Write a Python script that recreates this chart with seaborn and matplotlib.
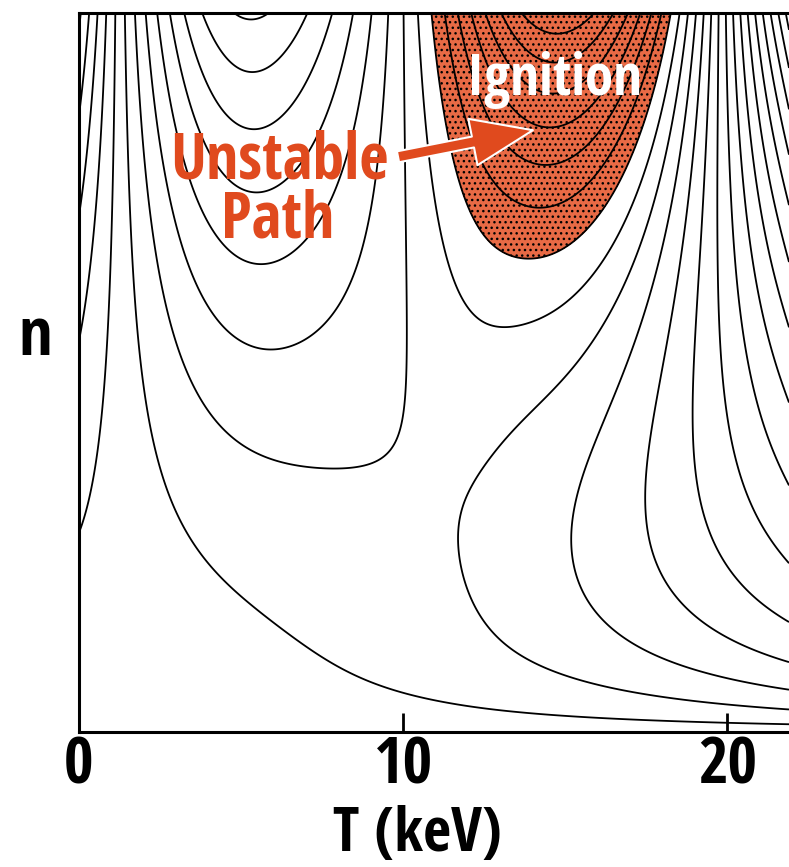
import numpy as np
import matplotlib
matplotlib.use("Agg")
import matplotlib.pyplot as plt
import seaborn as sns
from matplotlib import font_manager as fm

# ---------------- data ----------------
# temperatures (keV) where contour lines meet the top edge, and the contour level of each line
top_T = [0.06, 0.31, 0.56, 0.83, 1.14, 1.45, 1.70, 2.07, 2.38, 2.78,
         3.24, 3.86, 4.90, 5.42, 5.93, 7.19, 7.78, 8.43, 8.95, 9.51,
         10.03, 10.43, 10.90, 11.33, 11.73, 12.13, 12.56, 12.96, 13.36, 14.60,
         15.96, 16.36, 16.88, 17.28, 17.81, 18.12, 18.27, 18.43, 18.73, 18.98,
         19.23, 19.51, 19.75, 19.97, 20.15, 20.43, 20.62, 20.90, 21.08, 21.30,
         21.54, 21.82]
top_level = [-4, -3, -2, -1, 0, 1, 2, 3, 4, 5,
             6, 7, 8, 8.12, 8, 7, 6, 5, 4, 3,
             2, 1, 0, -1, -2, -3, -4, -5, -6, -6.5,
             -6, -5, -4, -3, -2, -1, 0, 1, 2, 3,
             4, 5, 6, 7, 8, 9, 10, 11, 12, 13,
             14, 15]
contour_levels = list(range(-6, 16))
base_level = 0.35        # value along n = 0
cond_coef = 0.0195       # low-density term ~ coef * T^2 * (T/T_ref)^tilt
cond_T_ref = 10.0
cond_tilt = -0.28
n_sat = 0.13             # density scale of the saturating low-density term
n_power = [2.0, 0.55]    # density exponent of the high-density term: base, extra at high T
n_power_T = [12.5, 0.8]  # centre / width (keV) of the exponent change
T_range = [0.0, 21.9]
n_range = [0.0, 1.0]
x_ticks = [0, 10, 20]
x_tick_labels = ["0", "10", "20"]
ignition_T_min = 6.0     # shaded (ignition) region lies right of this temperature

# ---------------- field ----------------
T = np.linspace(T_range[0], T_range[1], 700)
n = np.linspace(n_range[0], n_range[1], 600)
TT, NN = np.meshgrid(T, n)
top_fit = np.polynomial.Chebyshev.fit(top_T, top_level, deg=12)
P_top = top_fit(T)
A = cond_coef * T ** 2 * (np.maximum(T, 1e-6) / cond_T_ref) ** cond_tilt
G = P_top - base_level - A
q = n_power[0] + n_power[1] / (1 + np.exp(-(T - n_power_T[0]) / n_power_T[1]))
phi = NN * (1 + n_sat) / (NN + n_sat)
P = base_level + A[None, :] * phi + G[None, :] * NN ** q[None, :]

# ---------------- fonts ----------------
sns.set_theme(style="white")
plt.rcParams["font.family"] = ["Liberation Sans", "DejaVu Sans"]
plt.rcParams["hatch.color"] = "black"
plt.rcParams["hatch.linewidth"] = 1.0
plt.rcParams["contour.negative_linestyle"] = "solid"


def _is_bold(w):
    try:
        return int(w) >= 600
    except (TypeError, ValueError):
        return str(w).lower() in ("bold", "semibold", "demibold", "heavy", "black", "extra bold")


cond_file = None
prefs = ["Liberation Sans Narrow", "Noto Sans", "Open Sans", "Roboto", "DejaVu Sans", "Lato", "Inter"]
cands = []
for f in fm.fontManager.ttflist:
    narrowish = ("Narrow" in f.name or "Condensed" in f.name or
                 str(f.stretch).lower() in ("condensed", "semi-condensed", "extra-condensed"))
    if narrowish and _is_bold(f.weight) and str(f.style) == "normal":
        cands.append(f)
for p in prefs:
    for f in cands:
        if f.name.startswith(p) and "Extra" not in f.fname and "Black" not in f.fname:
            cond_file = f.fname
            break
    if cond_file:
        break


def fp(size_cond, size_reg):
    if cond_file:
        return fm.FontProperties(fname=cond_file, size=size_cond)
    return fm.FontProperties(family="Liberation Sans", weight="bold", size=size_reg)


RED = "#E04A1E"
FILL = "#E86A45"

fig = plt.figure(figsize=(7.89, 8.67), dpi=100)
ax = fig.add_axes([79 / 789, 135 / 867, 710 / 789, 719 / 867])

fill_field = np.where(TT > ignition_T_min, P, 1.0)
cf = ax.contourf(TT, NN, fill_field, levels=[-100, 0], colors=[FILL], hatches=["..."])
cf.set_edgecolor("black")
cf.set_linewidth(0)
ax.contour(TT, NN, P, levels=contour_levels, colors="black", linewidths=1.3,
           linestyles="solid")

ax.set_xlim(T_range)
ax.set_ylim(n_range)
for side in ["left", "top", "bottom"]:
    ax.spines[side].set_visible(True)
    ax.spines[side].set_color("black")
    ax.spines[side].set_linewidth(2.2)
ax.spines["right"].set_visible(False)

ax.set_xticks(x_ticks)
ax.set_xticklabels(x_tick_labels)
for lab in ax.get_xticklabels():
    lab.set_fontproperties(fp(46, 38))
ax.tick_params(axis="x", bottom=True, direction="in", length=14, width=2,
               colors="black", pad=2)
ax.set_yticks([])

ax.set_xlabel("T (keV)", color="black")
ax.xaxis.label.set_fontproperties(fp(44, 36))
ax.xaxis.set_label_coords(0.477, -0.1446)
ax.xaxis.label.set_va("center")
ax.set_ylabel("n", rotation=0, color="black")
ax.yaxis.label.set_fontproperties(fp(48, 40))
ax.yaxis.set_label_coords(-0.062, 0.548)
ax.yaxis.label.set_va("center")
ax.yaxis.label.set_ha("center")

ax.text(14.68, 0.886, "Ignition", color="white", fontproperties=fp(41, 34),
        ha="center", va="baseline")
ax.text(6.17, 0.770, "Unstable", color=RED, fontproperties=fp(46, 39),
        ha="center", va="baseline")
ax.text(6.14, 0.688, "Path", color=RED, fontproperties=fp(46, 39),
        ha="center", va="baseline")
ax.annotate("", xy=(14.0, 0.837), xytext=(9.84, 0.800),
            arrowprops=dict(arrowstyle="simple,head_length=1.1,head_width=0.85,tail_width=0.2",
                            fc=RED, ec="white", lw=1.5, mutation_scale=40,
                            shrinkA=0, shrinkB=0))

fig.savefig("out.png", dpi=100)
